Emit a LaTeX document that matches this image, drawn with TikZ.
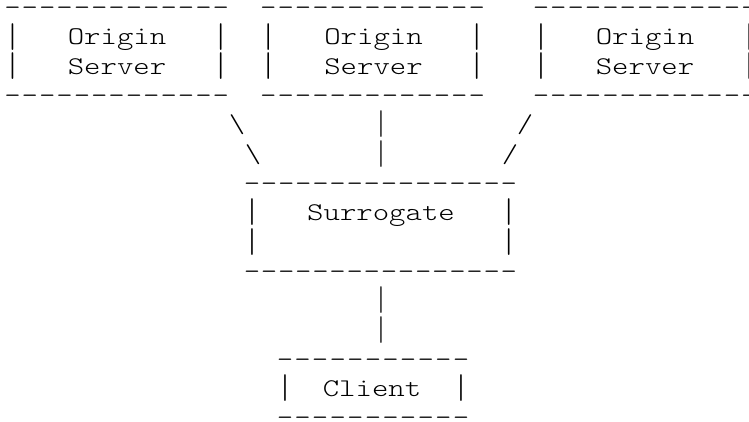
\documentclass[tikz,border=0pt]{standalone}
\usepackage{fontspec}
\newlength\cw
\newcommand\widen[1]{\scalebox{1.225}[1]{#1}}
\newcommand\vbar{\raisebox{-2.1pt}{\scalebox{1}[1.34]{|}}}
% one monospace cell per character; "." stands for a blank cell
\newcommand\grid[2]{\setlength\cw{#1pt}\setlength\cw{0.8163\cw}\widen{\gridA#2\relax}}
\def\gridA#1{\ifx#1\relax\else\gridcell{#1}\expandafter\gridA\fi}
\def\gridcell#1{\makebox[\cw][c]{\if.#1\else\if|#1\vbar\else#1\fi\fi}}
\tikzset{
  asc/.style={font={\fontsize{25.5pt}{29pt}\fontseries{l}\ttfamily}, inner sep=0pt, outer sep=0pt, anchor=base west},
  word/.style={asc, anchor=base}
}
\begin{document}
\begin{tikzpicture}[x=1pt,y=1pt]
\useasboundingbox[fill=white] (0,0) rectangle (749,-421);
% Origin server boxes
\foreach \n/\x/\m in {a/3.8/117, b/259.7/373.5, c/532.3/645}{
  \node[asc] (\n0) at (\x,-15.6)  {\grid{17.37}{-------------}};
  \node[asc] (\n1) at (\x,-44.9)  {\grid{17.37}{|...........|}};
  \node[asc] (\n2) at (\x,-74.2)  {\grid{17.37}{|...........|}};
  \node[asc] (\n3) at (\x,-103.5) {\grid{17.37}{-------------}};
  \node[word] (\n o) at (\m,-44.9) {\widen{Origin}};
  \node[word] (\n s) at (\m,-74.2) {\widen{Server}};
}
% links from origins
\node[word] (bs1) at (237,-132.8) {\widen{\textbackslash}};
\node[word] (bs2) at (253,-162.1) {\widen{\textbackslash}};
\node[word] (vp1) at (381,-132.8) {\vbar};
\node[word] (vp2) at (381,-162.1) {\vbar};
\node[word] (sl1) at (525,-132.8) {\widen{/}};
\node[word] (sl2) at (510,-162.1) {\widen{/}};
% Surrogate
\node[asc] (s0) at (243.4,-191.4) {\grid{17.13}{----------------}};
\node[asc] (s1) at (243.4,-220.7) {\grid{17.13}{|..............|}};
\node[asc] (s2) at (243.4,-250.0) {\grid{17.13}{|..............|}};
\node[asc] (s3) at (243.4,-279.3) {\grid{17.13}{----------------}};
\node[word] (sw) at (381,-220.7) {\widen{Surrogate}};
% link to client
\node[word] (vp3) at (381,-308.6) {\vbar};
\node[word] (vp4) at (381,-337.9) {\vbar};
% Client
\node[asc] (c0) at (276.2,-367.2) {\grid{17.6}{-----------}};
\node[asc] (c1) at (276.2,-396.5) {\grid{17.6}{|.........|}};
\node[asc] (c2) at (276.2,-425.8) {\grid{17.6}{-----------}};
\node[word] (cw) at (372,-396.5) {\widen{Client}};
\end{tikzpicture}
\end{document}
